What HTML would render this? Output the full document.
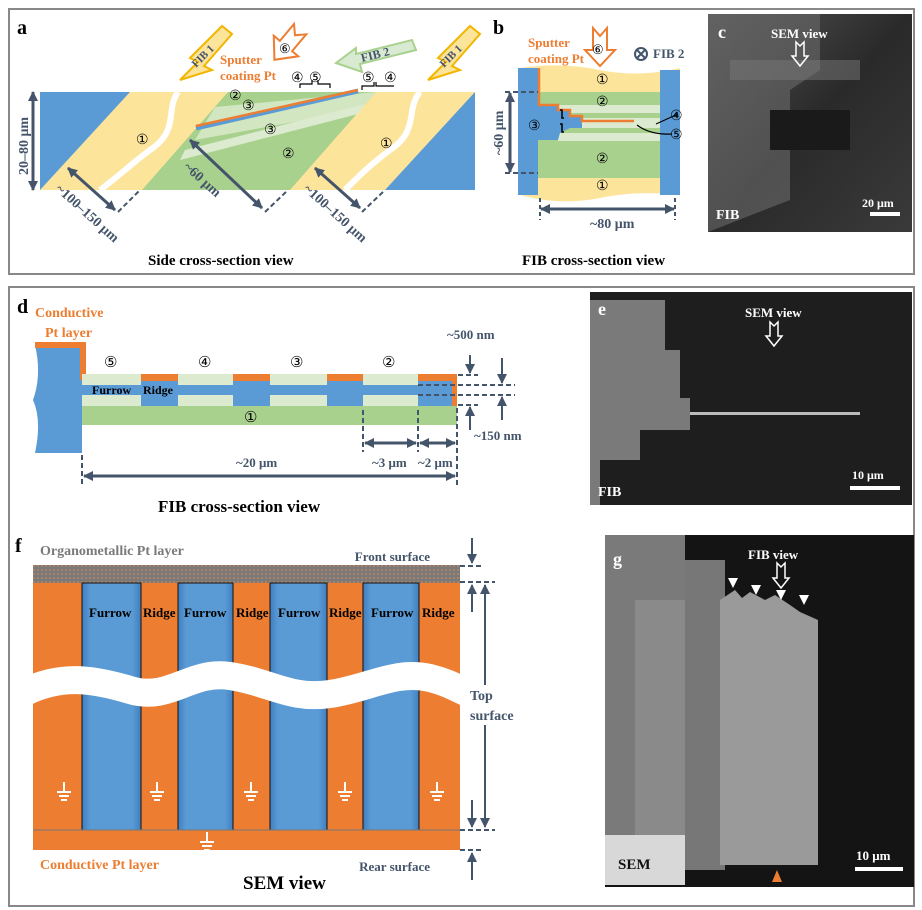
<!DOCTYPE html>
<html><head><meta charset="utf-8"><style>
body{margin:0;background:#fff}
svg{display:block;font-family:"Liberation Serif",serif;font-weight:bold}
</style></head><body>
<svg width="922" height="910" viewBox="0 0 922 910" xmlns="http://www.w3.org/2000/svg">
<defs>
<linearGradient id="gc" x1="0" y1="0" x2="1" y2="1"><stop offset="0" stop-color="#555"/><stop offset=".5" stop-color="#2a2a2a"/><stop offset="1" stop-color="#3a3a3a"/></linearGradient>
<linearGradient id="gb" x1="0" x2="1"><stop offset="0" stop-color="#3f7fc0"/><stop offset=".15" stop-color="#5b9bd5"/><stop offset=".85" stop-color="#5b9bd5"/><stop offset="1" stop-color="#3f7fc0"/></linearGradient>
<pattern id="dots" width="4" height="4" patternUnits="userSpaceOnUse"><rect width="4" height="4" fill="#7a7a7a"/><circle cx="2" cy="2" r=".8" fill="#e8894a"/></pattern>
<marker id="ar" markerUnits="userSpaceOnUse" markerWidth="10" markerHeight="10" refX="9" refY="5" orient="auto-start-reverse"><path d="M0,0L10,5L0,10z" fill="#44546a"/></marker>
</defs>
<rect x="9" y="9" width="905" height="265" fill="none" stroke="#888" stroke-width="2"/>
<rect x="9" y="287" width="905" height="619" fill="none" stroke="#888" stroke-width="2"/>

<!-- panel a -->
<text x="17" y="34" font-size="20">a</text>
<polygon points="40,92 475,92 475,190 40,190" fill="#fde49b"/>
<polygon points="40,92 130,92 40,190" fill="#5b9bd5"/>
<polygon points="475,92 475,190 385,190" fill="#5b9bd5"/>
<polygon points="228,92 376,92 290,190 142,190" fill="#a9d18e"/>
<polygon points="215,107 376,92 360,110 195,140" fill="#dcebd0" opacity=".8"/>
<polygon points="185,150 365,104 358,114 180,160" fill="#dcebd0"/>
<line x1="196" y1="128" x2="358" y2="91" stroke="#5b9bd5" stroke-width="5"/>
<line x1="196" y1="126" x2="358" y2="90" stroke="#ed7d31" stroke-width="2.5"/>
<path d="M178,92 C165,110 180,130 150,150 C130,165 120,175 100,190" stroke="#fff" stroke-width="6" fill="none"/>
<path d="M420,92 C405,110 420,130 390,150 C370,165 360,175 345,190" stroke="#fff" stroke-width="6" fill="none"/>
<line x1="33" y1="92" x2="33" y2="190" stroke="#44546a" stroke-width="3" marker-start="url(#ar)" marker-end="url(#ar)"/>
<text transform="translate(28,175) rotate(-90)" font-size="14" fill="#44546a">20–80 μm</text>
<line x1="68" y1="168" x2="115" y2="210" stroke="#44546a" stroke-width="3" marker-start="url(#ar)" marker-end="url(#ar)"/>
<line x1="118" y1="212" x2="140" y2="190" stroke="#44546a" stroke-width="2" stroke-dasharray="5,3"/>
<text transform="translate(55,190) rotate(42)" font-size="14" fill="#44546a">~100–150 μm</text>
<line x1="190" y1="140" x2="262" y2="208" stroke="#44546a" stroke-width="3" marker-start="url(#ar)" marker-end="url(#ar)"/>
<line x1="265" y1="212" x2="288" y2="190" stroke="#44546a" stroke-width="2" stroke-dasharray="5,3"/>
<text transform="translate(183,168) rotate(42)" font-size="14" fill="#44546a">~60 μm</text>
<line x1="315" y1="168" x2="360" y2="208" stroke="#44546a" stroke-width="3" marker-start="url(#ar)" marker-end="url(#ar)"/>
<line x1="362" y1="212" x2="385" y2="190" stroke="#44546a" stroke-width="2" stroke-dasharray="5,3"/>
<text transform="translate(303,190) rotate(42)" font-size="14" fill="#44546a">~100–150 μm</text>
<g font-size="14" font-family="Liberation Sans,sans-serif" font-weight="normal">
<text x="136" y="144">①</text><text x="380" y="148">①</text><text x="282" y="158">②</text><text x="264" y="134">③</text>
<text x="229" y="100">②</text><text x="242" y="110">③</text>
<text x="291" y="82">④</text><text x="309" y="82">⑤</text><text x="362" y="82">⑤</text><text x="384" y="82">④</text>
</g>
<path d="M300,88v-4h12v-4M318,80v4h12v4M362,90v-4h12v-4M376,82v4h18" stroke="#000" fill="none" stroke-width="1.2"/>
<text x="220" y="64" font-size="13" fill="#ed7d31">Sputter</text>
<text x="220" y="80" font-size="13" fill="#ed7d31">coating Pt</text>
<polygon points="-8,-22 0,-14 8,-22 8,0 16,0 0,18 -16,0 -8,0" fill="#fff" stroke="#ed7d31" stroke-width="2" transform="translate(286,46) rotate(40)"/>
<text x="279" y="53" font-size="13" font-family="Liberation Sans,sans-serif" font-weight="normal">⑥</text>
<polygon points="180,80 198,62 190,58 222,26 232,34 204,66 212,70" fill="#fde49b" stroke="#f2b500" stroke-width="2"/>
<text transform="translate(196,68) rotate(-45)" font-size="11" fill="#44546a">FIB 1</text>
<polygon points="428,80 446,62 438,58 470,26 480,34 452,66 460,70" fill="#fde49b" stroke="#f2b500" stroke-width="2"/>
<text transform="translate(444,68) rotate(-45)" font-size="11" fill="#44546a">FIB 1</text>
<polygon points="336,63 356,48 356,54 412,40 416,50 360,64 362,72" fill="#d9ead3" stroke="#a9d18e" stroke-width="2"/>
<text transform="translate(362,62) rotate(-14)" font-size="12" fill="#44546a">FIB 2</text>
<text x="148" y="265" font-size="15">Side cross-section view</text>

<!-- panel b -->
<text x="493" y="34" font-size="20">b</text>
<path d="M520,68 Q560,62 600,70 T680,68 V195 Q640,190 600,198 T520,195 Z" fill="#fde49b"/>
<rect x="538" y="92" width="134" height="86" fill="#a9d18e"/>
<rect x="518" y="68" width="20" height="127" fill="#5b9bd5"/>
<rect x="660" y="70" width="20" height="125" fill="#5b9bd5"/>
<rect x="558" y="105" width="112" height="8" fill="#dcebd0"/>
<rect x="558" y="133" width="112" height="8" fill="#dcebd0"/>
<rect x="580" y="118" width="80" height="10" fill="#dcebd0"/>
<polygon points="538,92 540,105 558,105 558,110 570,110 570,116 582,116 582,128 570,128 560,133 558,140 538,140" fill="#5b9bd5"/>
<rect x="660" y="105" width="12" height="36" fill="#5b9bd5"/>
<path d="M539,68 V105 H558 V110 H570 V116 H582 V121 H634" stroke="#ed7d31" stroke-width="2.5" fill="none"/>
<line x1="505" y1="92" x2="538" y2="92" stroke="#44546a" stroke-dasharray="5,3" stroke-width="2"/>
<line x1="505" y1="173" x2="538" y2="173" stroke="#44546a" stroke-dasharray="5,3" stroke-width="2"/>
<line x1="510" y1="93" x2="510" y2="172" stroke="#44546a" stroke-width="3" marker-start="url(#ar)" marker-end="url(#ar)"/>
<text transform="translate(503,155) rotate(-90)" font-size="14" fill="#44546a">~60 μm</text>
<line x1="540" y1="198" x2="540" y2="220" stroke="#44546a" stroke-dasharray="4,3" stroke-width="2"/>
<line x1="675" y1="198" x2="675" y2="220" stroke="#44546a" stroke-dasharray="4,3" stroke-width="2"/>
<line x1="541" y1="209" x2="674" y2="209" stroke="#44546a" stroke-width="3" marker-start="url(#ar)" marker-end="url(#ar)"/>
<text x="590" y="228" font-size="14" fill="#44546a">~80 μm</text>
<g font-size="14" font-family="Liberation Sans,sans-serif" font-weight="normal">
<text x="596" y="84">①</text><text x="596" y="106">②</text><text x="596" y="163">②</text><text x="596" y="190">①</text>
<text x="528" y="130">③</text><text x="670" y="120">④</text><text x="670" y="139">⑤</text>
</g>
<path d="M560,110 h2 v8 h2 M560,124 h2 v8 h2" stroke="#000" fill="none" stroke-width="1.5"/>
<line x1="656" y1="124" x2="678" y2="114" stroke="#000" stroke-width="1.2"/>
<path d="M637,125 Q650,135 672,134" stroke="#000" fill="none" stroke-width="1.2"/>
<text x="528" y="47" font-size="13" fill="#ed7d31">Sputter</text>
<text x="528" y="63" font-size="13" fill="#ed7d31">coating Pt</text>
<polygon points="593,28 600,36 607,28 607,50 615,50 600,66 585,50 593,50" fill="#fff" stroke="#ed7d31" stroke-width="2"/>
<text x="592" y="54" font-size="13" font-family="Liberation Sans,sans-serif" font-weight="normal">⑥</text>
<circle cx="641" cy="54" r="6" fill="none" stroke="#44546a" stroke-width="2"/><path d="M637,50l8,8M645,50l-8,8" stroke="#44546a" stroke-width="2"/>
<text x="653" y="58" font-size="13" fill="#44546a">FIB 2</text>
<text x="522" y="265" font-size="15">FIB cross-section view</text>

<!-- panel c -->
<rect x="708" y="14" width="204" height="218" fill="url(#gc)"/>
<path d="M708,14 H820 V70 L790,90 V200 L708,232Z" fill="#6a6a6a" opacity=".6"/>
<rect x="770" y="110" width="80" height="40" fill="#1a1a1a"/>
<rect x="730" y="60" width="130" height="20" fill="#777" opacity=".5"/>
<text x="718" y="38" font-size="18" fill="#fff">c</text>
<text x="771" y="38" font-size="13" fill="#fff">SEM view</text>
<polygon points="796,42 800,46 804,42 804,56 808,56 800,66 792,56 796,56" fill="none" stroke="#fff" stroke-width="1.5"/>
<text x="716" y="219" font-size="14" fill="#fff">FIB</text>
<text x="862" y="207" font-size="12" fill="#fff">20 μm</text>
<rect x="870" y="212" width="30" height="4" fill="#fff"/>

<!-- panel d -->
<text x="17" y="313" font-size="20">d</text>
<text x="35" y="317" font-size="14" fill="#ed7d31">Conductive</text>
<text x="45" y="337" font-size="14" fill="#ed7d31">Pt layer</text>
<path d="M35,345 H82 V453 H35 Q42,420 33,400 Q42,375 35,345Z" fill="#5b9bd5"/>
<path d="M35,345 H83 V380" stroke="#ed7d31" stroke-width="6" fill="none"/>
<rect x="82" y="374" width="375" height="32" fill="#dcebd0"/>
<rect x="82" y="385" width="375" height="10" fill="#5b9bd5"/>
<rect x="82" y="406" width="375" height="19" fill="#a9d18e"/>
<rect x="141" y="374" width="37" height="32" fill="#5b9bd5"/><rect x="141" y="374" width="37" height="7" fill="#ed7d31"/>
<rect x="233" y="374" width="37" height="32" fill="#5b9bd5"/><rect x="233" y="374" width="37" height="7" fill="#ed7d31"/>
<rect x="327" y="374" width="36" height="32" fill="#5b9bd5"/><rect x="327" y="374" width="36" height="7" fill="#ed7d31"/>
<rect x="418" y="374" width="39" height="32" fill="#5b9bd5"/><rect x="418" y="374" width="39" height="7" fill="#ed7d31"/><rect x="452" y="374" width="5" height="32" fill="#ed7d31"/>
<text x="92" y="394" font-size="12">Furrow</text><text x="143" y="394" font-size="12">Ridge</text>
<g font-size="15" font-family="Liberation Sans,sans-serif" font-weight="normal">
<text x="104" y="367">⑤</text><text x="198" y="367">④</text><text x="290" y="367">③</text><text x="382" y="367">②</text><text x="244" y="422">①</text>
</g>
<g stroke="#44546a" stroke-width="2" stroke-dasharray="5,3" fill="none">
<path d="M82,455 V485 M457,408 V485 M363,410 V452 M418,410 V452 M458,375 H478 M418,385 H515 M418,395 H515 M458,405 H478"/>
</g>
<line x1="84" y1="476" x2="455" y2="476" stroke="#44546a" stroke-width="3" marker-start="url(#ar)" marker-end="url(#ar)"/>
<line x1="365" y1="443" x2="416" y2="443" stroke="#44546a" stroke-width="3" marker-start="url(#ar)" marker-end="url(#ar)"/>
<line x1="420" y1="443" x2="455" y2="443" stroke="#44546a" stroke-width="3" marker-start="url(#ar)" marker-end="url(#ar)"/>
<line x1="470" y1="355" x2="470" y2="373" stroke="#44546a" stroke-width="2" marker-end="url(#ar)"/>
<line x1="502" y1="358" x2="502" y2="383" stroke="#44546a" stroke-width="2" marker-end="url(#ar)"/>
<line x1="502" y1="420" x2="502" y2="397" stroke="#44546a" stroke-width="2" marker-end="url(#ar)"/>
<line x1="470" y1="430" x2="470" y2="407" stroke="#44546a" stroke-width="2" marker-end="url(#ar)"/>
<text x="447" y="339" font-size="13" fill="#44546a">~500 nm</text>
<text x="474" y="440" font-size="13" fill="#44546a">~150 nm</text>
<text x="236" y="467" font-size="13" fill="#44546a">~20 μm</text>
<text x="372" y="467" font-size="13" fill="#44546a">~3 μm</text><text x="418" y="467" font-size="13" fill="#44546a">~2 μm</text>
<text x="158" y="512" font-size="17">FIB cross-section view</text>

<!-- panel e -->
<rect x="590" y="292" width="322" height="213" fill="#1e1e1e"/>
<path d="M590,300 H665 V350 H680 V398 H690 V430 H640 V460 H600 V505 H590Z" fill="#7a7a7a"/>
<rect x="690" y="412" width="170" height="3" fill="#bbb"/>
<text x="598" y="315" font-size="18" fill="#fff">e</text>
<text x="745" y="317" font-size="13" fill="#fff">SEM view</text>
<polygon points="770,322 774,326 778,322 778,336 782,336 774,346 766,336 770,336" fill="none" stroke="#fff" stroke-width="1.5"/>
<text x="598" y="496" font-size="14" fill="#fff">FIB</text>
<text x="852" y="479" font-size="12" fill="#fff">10 μm</text>
<rect x="850" y="486" width="50" height="4" fill="#fff"/>

<!-- panel f -->
<text x="15" y="552" font-size="20">f</text>
<text x="40" y="555" font-size="14" fill="#7a7a7a">Organometallic Pt layer</text>
<rect x="33" y="565" width="427" height="18" fill="url(#dots)"/>
<rect x="33" y="583" width="427" height="267" fill="#ed7d31"/>
<g fill="url(#gb)" stroke="#111" stroke-width="1">
<rect x="82" y="583" width="59" height="247"/><rect x="178" y="583" width="55" height="247"/><rect x="270" y="583" width="57" height="247"/><rect x="363" y="583" width="56" height="247"/>
</g>
<line x1="33" y1="830" x2="460" y2="830" stroke="#777" stroke-width="1"/>
<path d="M25,692 C60,675 90,678 130,690 C170,702 190,670 230,676 C270,682 290,700 330,694 C370,688 395,670 430,678 C450,683 460,690 470,694" stroke="#fff" stroke-width="28" fill="none"/>
<g font-size="13"><text x="89" y="617">Furrow</text><text x="143" y="617">Ridge</text><text x="184" y="617">Furrow</text><text x="236" y="617">Ridge</text><text x="278" y="617">Furrow</text><text x="329" y="617">Ridge</text><text x="371" y="617">Furrow</text><text x="422" y="617">Ridge</text></g>
<g stroke="#fff" stroke-width="2"><path d="M64,782v10M57,792h14M59,796h10M61,800h6M157,782v10M150,792h14M152,796h10M154,800h6M251,782v10M244,792h14M246,796h10M248,800h6M345,782v10M338,792h14M340,796h10M342,800h6M437,782v10M430,792h14M432,796h10M434,800h6M207,832v10M200,842h14M202,846h10M204,850h6"/></g>
<text x="40" y="869" font-size="14" fill="#ed7d31">Conductive Pt layer</text>
<text x="243" y="889" font-size="19">SEM view</text>
<text x="430" y="561" font-size="13" fill="#44546a" text-anchor="end">Front surface</text>
<text x="430" y="871" font-size="13" fill="#44546a" text-anchor="end">Rear surface</text>
<text x="470" y="700" font-size="14" fill="#44546a">Top</text><text x="470" y="720" font-size="14" fill="#44546a">surface</text>
<g stroke="#44546a" stroke-width="2" stroke-dasharray="5,3"><path d="M460,566H482M460,582H495M460,830H495M460,850H482"/></g>
<line x1="472" y1="538" x2="472" y2="563" stroke="#44546a" stroke-width="2" marker-end="url(#ar)"/>
<line x1="472" y1="612" x2="472" y2="585" stroke="#44546a" stroke-width="2" marker-end="url(#ar)"/>
<line x1="472" y1="800" x2="472" y2="827" stroke="#44546a" stroke-width="2" marker-end="url(#ar)"/>
<line x1="472" y1="880" x2="472" y2="853" stroke="#44546a" stroke-width="2" marker-end="url(#ar)"/>
<line x1="485" y1="685" x2="485" y2="585" stroke="#44546a" stroke-width="2" marker-end="url(#ar)"/>
<line x1="485" y1="725" x2="485" y2="827" stroke="#44546a" stroke-width="2" marker-end="url(#ar)"/>

<!-- panel g -->
<rect x="605" y="535" width="309" height="352" fill="#141414"/>
<rect x="605" y="535" width="80" height="340" fill="#7a7a7a"/>
<rect x="635" y="600" width="50" height="265" fill="#8a8a8a"/>
<rect x="685" y="560" width="40" height="310" fill="#777"/>
<path d="M720,600 L735,590 L742,598 L750,592 L765,600 L775,595 L790,605 L800,612 L818,620 V865 H720Z" fill="#9a9a9a"/>
<rect x="605" y="835" width="80" height="50" fill="#d8d8d8"/>
<text x="613" y="565" font-size="18" fill="#fff">g</text>
<text x="748" y="559" font-size="13" fill="#fff">FIB view</text>
<polygon points="777,563 781,567 785,563 785,578 789,578 781,588 773,578 777,578" fill="none" stroke="#fff" stroke-width="1.5"/>
<g fill="#fff"><polygon points="728,578 738,578 733,588"/><polygon points="751,585 761,585 756,595"/><polygon points="776,590 786,590 781,600"/><polygon points="799,595 809,595 804,605"/></g>
<polygon points="772,882 782,882 777,870" fill="#ed7d31"/>
<text x="618" y="869" font-size="15" fill="#111">SEM</text>
<text x="856" y="860" font-size="13" fill="#fff">10 μm</text>
<rect x="855" y="867" width="48" height="4" fill="#fff"/>
</svg>
</body></html>
